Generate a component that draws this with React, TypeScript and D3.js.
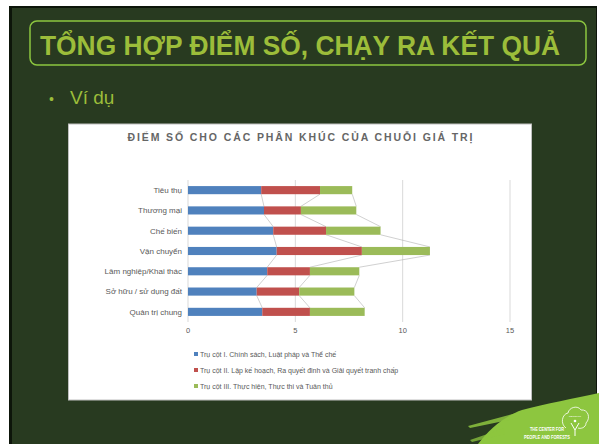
import React from "react";
import * as d3 from "d3";

const categories = [
  "Tiêu thụ",
  "Thương mại",
  "Chế biến",
  "Vận chuyển",
  "Lâm nghiệp/Khai thác",
  "Sở hữu / sử dụng đất",
  "Quản trị chung",
];
const pillar1 = [3.41, 3.54, 3.97, 4.13, 3.69, 3.2, 3.46];
const pillar2 = [2.74, 1.72, 2.46, 3.97, 1.99, 1.98, 2.22];
const pillar3 = [1.5, 2.58, 2.54, 3.17, 2.3, 2.57, 2.55];
const seriesNames = [
  "Trụ cột I. Chính sách, Luật pháp và Thể chế",
  "Trụ cột II. Lập kế hoạch, Ra quyết đinh và Giải quyết tranh chấp",
  "Trụ cột III. Thực hiện, Thực thi và Tuân thủ",
];
const seriesColors = ["#4f81bd", "#c0504d", "#9bbb59"];
const xTicks = [0, 5, 10, 15];

export default function App() {
  const W = 599;
  const H = 444;
  const x = d3.scaleLinear().domain([0, 15]).range([188, 510]);
  const y = d3.scaleBand<string>().domain(categories).range([180, 322]).paddingInner(0.6).paddingOuter(0.3);
  const bw = y.bandwidth();

  const rows = categories.map((c, i) => ({ c, v: [pillar1[i], pillar2[i], pillar3[i]] }));
  const stack = d3.stack<any>().keys(["0", "1", "2"]).value((d: any, k: string) => d.v[+k]);
  const stacked = stack(rows);

  const fontSans = "'Liberation Sans', Arial, sans-serif";
  const grey = "#595959";

  return (
    <svg width={W} height={H} style={{ position: "absolute", left: 0, top: 0, display: "block" }} fontFamily={fontSans}>
      <rect x={0} y={0} width={W} height={H} fill="#ffffff" />
      {/* slide */}
      <rect x={9} y={6} width={588} height={438} fill="#0d150a" />
      <rect x={12} y={8} width={584} height={436} fill="#283a20" />
      {/* title box */}
      <rect x={30} y={21} width={556} height={44} rx={7} fill="none" stroke="#8cc63f" strokeWidth={1.5} />
      <text x={40} y={55} fontSize={28} fontWeight="bold" fill="#9cbd3a" textLength={520} lengthAdjust="spacingAndGlyphs">
        TỔNG HỢP ĐIỂM SỐ, CHẠY RA KẾT QUẢ
      </text>
      <text x={49} y={104} fontSize={14} fill="#9cbd3a">•</text>
      <text x={70} y={104} fontSize={19} fill="#9cbd3a">Ví dụ</text>

      {/* logo swoosh */}
      <path d="M599,393 C575,398 545,404 522,410 C505,416 490,428 478,444 L599,444 Z" fill="#8dc63f" />
      <path d="M520,412 L468,426 L470,428 L518,418 Z" fill="#8dc63f" opacity={0.85} />
      <path d="M505,428 L470,440 L472,442 L505,434 Z" fill="#8dc63f" opacity={0.75} />
      <text x={547} y={431} fontSize={5.5} fontWeight="bold" fill="#ffffff" textAnchor="middle" textLength={34} lengthAdjust="spacingAndGlyphs">THE CENTER FOR</text>
      <text x={547} y={438.5} fontSize={5.5} fontWeight="bold" fill="#ffffff" textAnchor="middle" textLength={46} lengthAdjust="spacingAndGlyphs">PEOPLE AND FORESTS</text>
      <path d="M566,428 C560,424 562,414 568,413 C569,407 578,405 581,410 C588,409 591,418 586,423 C586,428 580,429 578,428" fill="none" stroke="#ffffff" strokeWidth={0.8} />
      <text x={575} y={417} fontSize={2.5} fill="#ffffff" textAnchor="middle">RECOFTC</text>
      <path d="M571,423 L575,430 L579,423 M575,430 L575,436" stroke="#ffffff" strokeWidth={1} fill="none" />
      <circle cx={575} cy={421} r={1.3} fill="#ffffff" />

      {/* chart box */}
      <rect x={68.5} y={124} width={463} height={276} fill="#ffffff" stroke="#bfbfbf" strokeWidth={1} />
      <text x={300} y={140.5} fontSize={10.5} fontWeight="bold" fill="#666666" textAnchor="middle" textLength={345} lengthAdjust="spacing">
        ĐIỂM SỐ CHO CÁC PHÂN KHÚC CỦA CHUỖI GIÁ TRỊ
      </text>

      {/* gridlines */}
      {xTicks.map((t) => (
        <line key={t} x1={x(t)} x2={x(t)} y1={180} y2={322} stroke="#d9d9d9" strokeWidth={1} />
      ))}
      {xTicks.map((t) => (
        <text key={"l" + t} x={x(t)} y={333} fontSize={7.5} fill={grey} textAnchor="middle">{t}</text>
      ))}

      {/* series lines */}
      {stacked.map((s, si) =>
        s.slice(0, -1).map((d, i) => {
          const next = s[i + 1];
          return (
            <line
              key={`sl${si}-${i}`}
              x1={x(d[1])}
              y1={(y(categories[i]) as number) + bw}
              x2={x(next[1])}
              y2={y(categories[i + 1]) as number}
              stroke="#b0b0b0"
              strokeWidth={0.6}
            />
          );
        })
      )}

      {/* bars */}
      {stacked.map((s, si) =>
        s.map((d, i) => (
          <rect
            key={`b${si}-${i}`}
            x={x(d[0])}
            y={y(categories[i]) as number}
            width={x(d[1]) - x(d[0])}
            height={bw}
            fill={seriesColors[si]}
          />
        ))
      )}

      {/* category labels */}
      {categories.map((c) => (
        <text key={c} x={182} y={(y(c) as number) + bw / 2 + 2.8} fontSize={8} fill={grey} textAnchor="end">{c}</text>
      ))}

      {/* legend */}
      {seriesNames.map((n, i) => (
        <g key={n}>
          <rect x={194} y={352 + i * 16} width={4} height={4} fill={seriesColors[i]} />
          <text x={200} y={356.5 + i * 16} fontSize={7} fill={grey}>{n}</text>
        </g>
      ))}
    </svg>
  );
}
